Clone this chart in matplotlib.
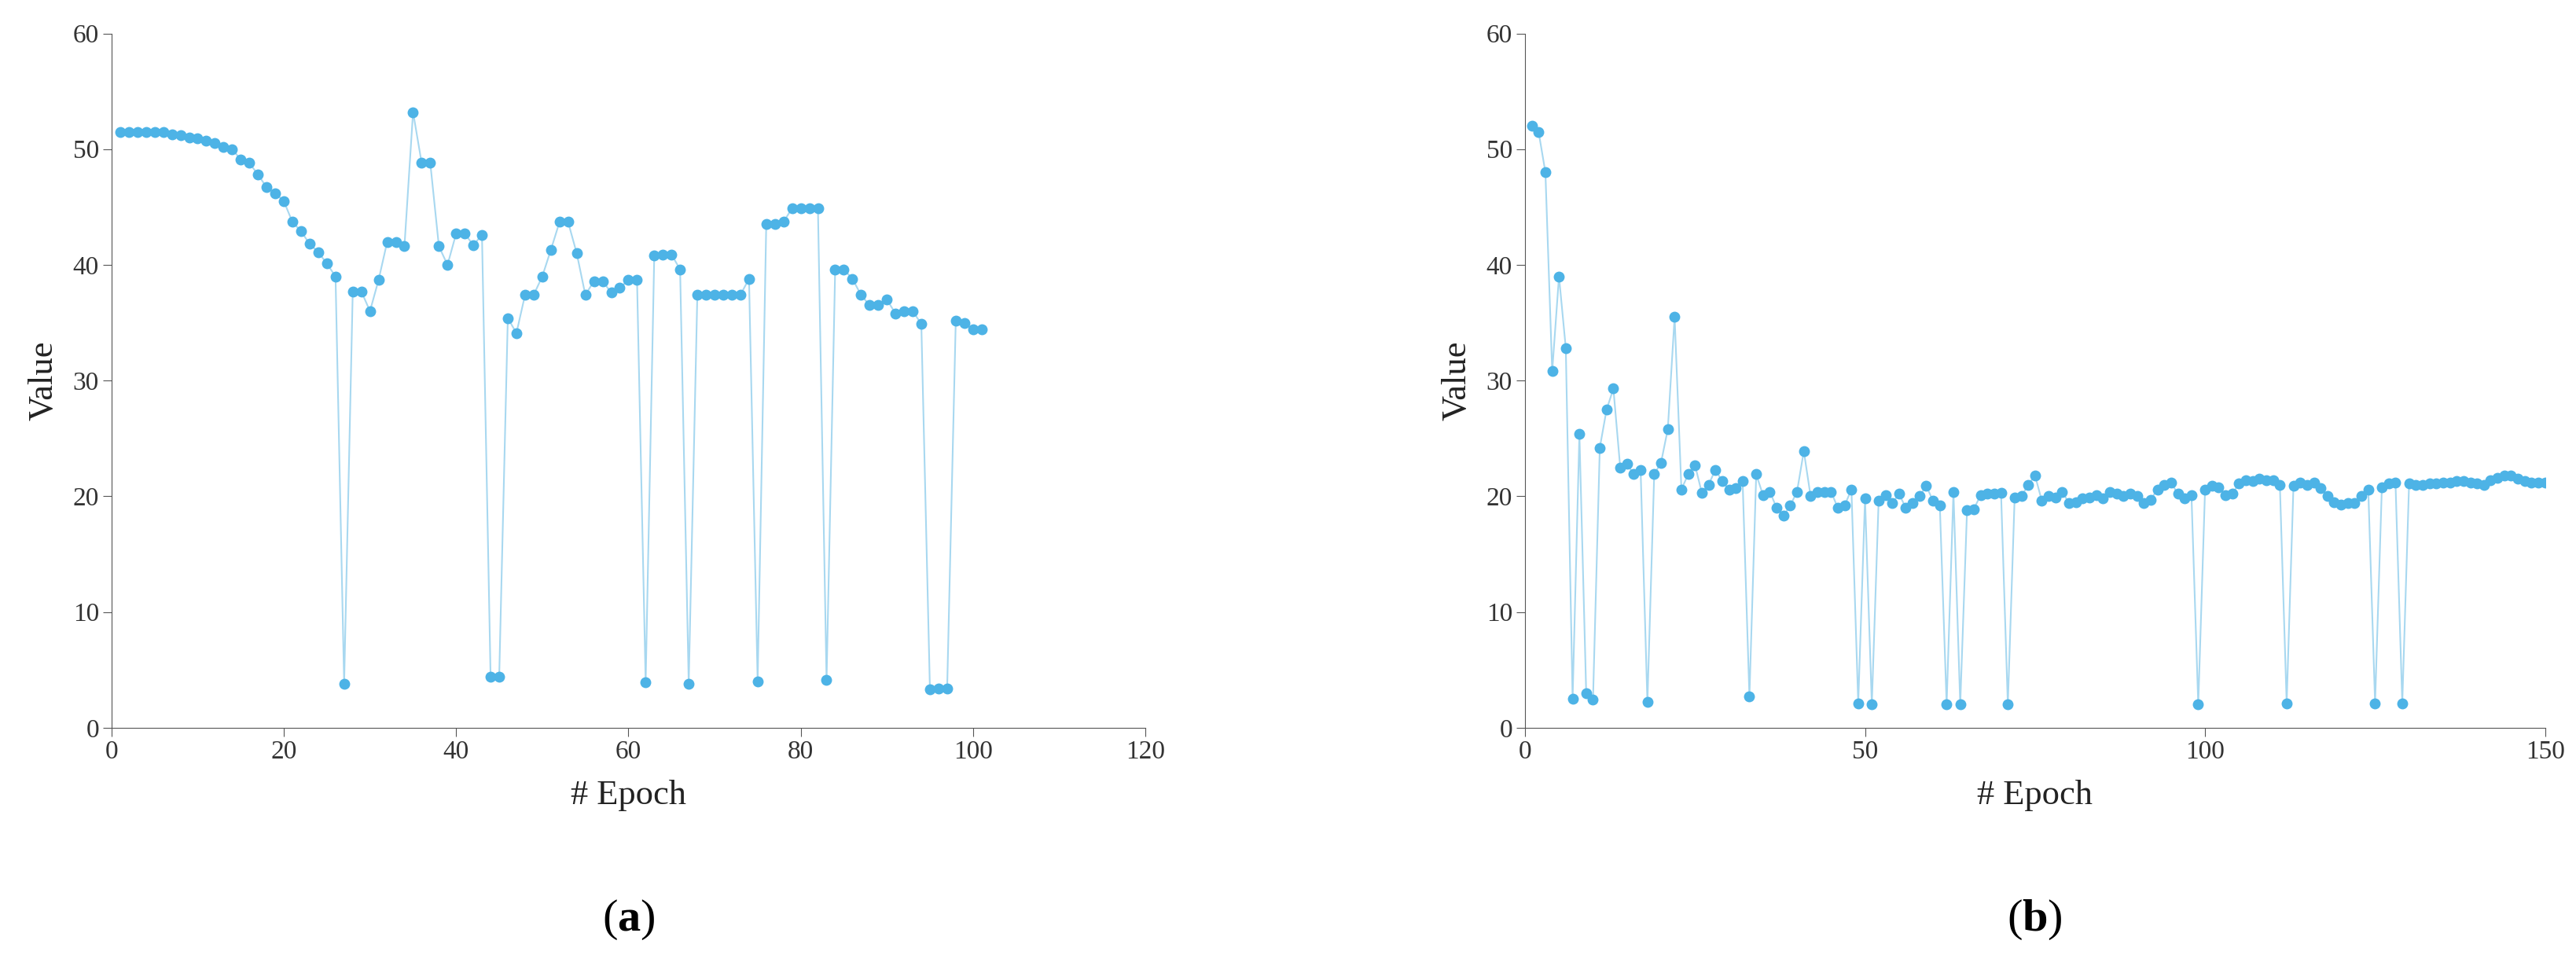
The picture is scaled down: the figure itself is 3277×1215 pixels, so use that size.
import matplotlib.pyplot as plt
import numpy as np

plt.rcParams['font.family'] = ['Liberation Serif', 'DejaVu Serif']
plt.rcParams['mathtext.fontset'] = 'custom'
plt.rcParams['mathtext.bf'] = 'Liberation Serif:bold'
plt.rcParams['mathtext.rm'] = 'Liberation Serif'

epochs_a = np.arange(1, 102)
values_a = [51.5, 51.5, 51.5, 51.5, 51.5, 51.5, 51.3, 51.2, 51.0, 50.9,
            50.7, 50.5, 50.2, 50.0, 49.1, 48.8, 47.8, 46.7, 46.2, 45.5,
            43.7, 42.9, 41.8, 41.1, 40.1, 39.0, 3.8, 37.7, 37.7, 36.0,
            38.7, 42.0, 42.0, 41.6, 53.2, 48.8, 48.8, 41.6, 40.0, 42.7,
            42.7, 41.7, 42.6, 4.4, 4.4, 35.4, 34.1, 37.4, 37.4, 39.0,
            41.3, 43.7, 43.7, 41.0, 37.4, 38.6, 38.6, 37.6, 38.0, 38.7,
            38.7, 3.9, 40.8, 40.9, 40.9, 39.6, 3.8, 37.4, 37.4, 37.4,
            37.4, 37.4, 37.4, 38.8, 4.0, 43.5, 43.5, 43.7, 44.9, 44.9,
            44.9, 44.9, 4.1, 39.6, 39.6, 38.8, 37.4, 36.5, 36.5, 37.0,
            35.8, 36.0, 36.0, 34.9, 3.3, 3.4, 3.4, 35.2, 35.0, 34.4,
            34.4]

epochs_b = np.arange(1, 151)
values_b = [52.0, 51.5, 48.0, 30.8, 39.0, 32.8, 2.5, 25.4, 3.0, 2.4,
            24.2, 27.5, 29.3, 22.5, 22.8, 21.9, 22.3, 2.2, 21.9, 22.9,
            25.8, 35.5, 20.6, 21.9, 22.7, 20.3, 21.0, 22.3, 21.3, 20.6,
            20.7, 21.3, 2.7, 21.9, 20.1, 20.4, 19.0, 18.3, 19.2, 20.4,
            23.9, 20.0, 20.4, 20.4, 20.4, 19.0, 19.2, 20.6, 2.1, 19.8,
            2.0, 19.6, 20.1, 19.4, 20.2, 19.0, 19.4, 20.0, 20.9, 19.6,
            19.2, 2.0, 20.4, 2.0, 18.8, 18.9, 20.1, 20.2, 20.2, 20.3,
            2.0, 19.9, 20.0, 21.0, 21.8, 19.6, 20.0, 19.9, 20.4, 19.4,
            19.5, 19.8, 19.9, 20.1, 19.8, 20.4, 20.2, 20.0, 20.2, 20.0,
            19.4, 19.7, 20.6, 21.0, 21.2, 20.2, 19.8, 20.1, 2.0, 20.6,
            20.9, 20.8, 20.1, 20.2, 21.1, 21.4, 21.3, 21.5, 21.4, 21.4,
            21.0, 2.1, 20.9, 21.2, 21.0, 21.2, 20.7, 20.0, 19.5, 19.3,
            19.4, 19.4, 20.0, 20.6, 2.1, 20.8, 21.1, 21.2, 2.1, 21.1,
            21.0, 21.0, 21.1, 21.1, 21.2, 21.2, 21.3, 21.3, 21.2, 21.1,
            21.0, 21.4, 21.6, 21.8, 21.8, 21.5, 21.3, 21.2, 21.2, 21.2]

color = '#4db3e6'
fig = plt.figure(figsize=(32.77, 12.15), dpi=100)
ax1 = fig.add_axes([0.0433, 0.238, 0.4013, 0.727])
ax2 = fig.add_axes([0.592, 0.238, 0.396, 0.727])

for ax, x, y, xmax, xticks, tag in [
        (ax1, epochs_a, values_a, 120, range(0, 121, 20), 'a'),
        (ax2, epochs_b, values_b, 150, range(0, 151, 50), 'b')]:
    ax.plot(x, y, '-', color='#a8d8f0', lw=1.5, zorder=1)
    ax.plot(x, y, 'o', color=color, ms=9, zorder=2)
    ax.set_xlim(0, xmax)
    ax.set_ylim(0, 60)
    ax.set_xticks(list(xticks))
    ax.set_yticks(range(0, 61, 10))
    ax.spines['top'].set_visible(False)
    ax.spines['right'].set_visible(False)
    ax.spines['left'].set_color('#555555')
    ax.spines['bottom'].set_color('#555555')
    ax.tick_params(labelsize=24, length=8, color='#555555', labelcolor='#333333')
    ax.set_xlabel('# Epoch', fontsize=32, color='#222222', labelpad=14)
    ax.set_ylabel('Value', fontsize=32, color='#222222', labelpad=12)
    ax.text(0.5, -0.245, '(' + r'$\mathbf{' + tag + '}$' + ')',
            transform=ax.transAxes, ha='center', va='top', fontsize=42)

fig.savefig('out.png', dpi=100)
